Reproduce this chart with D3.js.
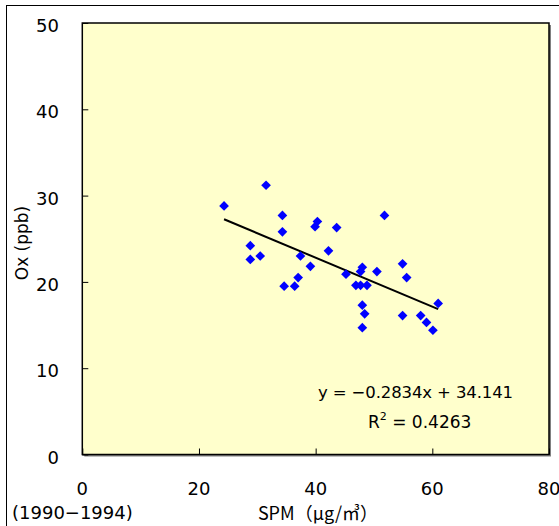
<!DOCTYPE html>
<html><head><meta charset="utf-8">
<script src="https://cdn.jsdelivr.net/npm/d3@7"></script>
<style>body{margin:0;background:#fff}svg{display:block}</style>
</head><body>
<svg id="c" width="559" height="526"></svg>
<script>
const spm = [24.3, 31.5, 28.8, 28.8, 30.5, 34.3, 34.3, 34.6, 36.4, 37.0, 37.4, 39.1, 39.9, 40.3, 42.2, 43.6, 45.2, 46.9, 47.7, 48.0, 47.7, 48.8, 48.0, 48.4, 48.0, 50.5, 51.8, 54.9, 55.6, 54.9, 58.0, 59.0, 60.1, 61.0];
const ox  = [28.8, 31.2, 24.2, 22.6, 23.0, 27.7, 25.8, 19.5, 19.5, 20.5, 23.0, 21.8, 26.4, 27.0, 23.6, 26.3, 20.9, 19.6, 19.6, 21.7, 21.2, 19.6, 17.3, 16.3, 14.7, 21.2, 27.7, 22.1, 20.5, 16.1, 16.1, 15.3, 14.4, 17.5];
const xTicks = [0, 20, 40, 60, 80];
const yTicks = [0, 10, 20, 30, 40, 50];
const slope = -0.2834, intercept = 34.141;
const eqText = "y = \u22120.2834x + 34.141";
const r2Text = "0.4263";
const yTitle = "Ox (ppb)";
const xTitle = "SPM\uFF08\u03BCg/\u33A5\uFF09";
const periodText = "(1990\u22121994)";

const svg = d3.select("#c");
const L = 82.3, R = 549, T = 23, B = 454.5;
const x = d3.scaleLinear().domain([0, 80]).range([L, R]);
const y = d3.scaleLinear().domain([0, 50]).range([B, T]);

// outer frame
svg.append("rect").attr("x", 6.5).attr("y", 5.5).attr("width", 700).attr("height", 700)
  .attr("fill", "#fff").attr("stroke", "#000").attr("stroke-width", 1);

// plot shadow + area
svg.append("rect").attr("x", L + 2).attr("y", T + 2).attr("width", R - L).attr("height", B - T)
  .attr("fill", "#808080");
svg.append("rect").attr("x", L).attr("y", T).attr("width", R - L).attr("height", B - T)
  .attr("fill", "#FFFFCC").attr("stroke", "#000").attr("stroke-width", 1.5);

const font = "DejaVu Sans";
const yAxis = d3.axisRight(y).tickValues(yTicks).tickSize(6).tickFormat("");
const gy = svg.append("g").attr("transform", `translate(${L},0)`).call(yAxis);
gy.select(".domain").remove();
gy.selectAll("line").attr("stroke", "#000").attr("stroke-width", 1);
const xAxis = d3.axisTop(x).tickValues(xTicks).tickSize(6).tickFormat("");
const gx = svg.append("g").attr("transform", `translate(0,${B})`).call(xAxis);
gx.select(".domain").remove();
gx.selectAll("line").attr("stroke", "#000").attr("stroke-width", 1);

svg.append("g").selectAll("text").data(yTicks).join("text")
  .attr("x", 59).attr("y", d => y(d) + 2.5)
  .attr("text-anchor", "end").attr("dominant-baseline", "central")
  .attr("font-family", font).attr("font-size", 18).text(d => d);
svg.append("g").selectAll("text").data(xTicks).join("text")
  .attr("x", d => x(d)).attr("y", 488)
  .attr("text-anchor", "middle").attr("dominant-baseline", "central")
  .attr("font-family", font).attr("font-size", 18).text(d => d);

svg.append("text").attr("transform", "translate(22,243) rotate(-90)")
  .attr("text-anchor", "middle").attr("dominant-baseline", "central")
  .attr("font-family", font).attr("font-size", 17).text(yTitle);
svg.append("text").attr("x", 318).attr("y", 512)
  .attr("text-anchor", "middle").attr("dominant-baseline", "central")
  .attr("font-family", "Noto Sans CJK JP").attr("font-size", 18).text(xTitle);
svg.append("text").attr("x", 12).attr("y", 512)
  .attr("dominant-baseline", "central")
  .attr("font-family", font).attr("font-size", 18).text(periodText);

const xmin = d3.min(spm), xmax = d3.max(spm);
svg.append("line")
  .attr("x1", x(xmin)).attr("y1", y(slope * xmin + intercept))
  .attr("x2", x(xmax)).attr("y2", y(slope * xmax + intercept))
  .attr("stroke", "#000").attr("stroke-width", 2);

const pts = spm.map((v, i) => [v, ox[i]]);
svg.append("g").selectAll("path").data(pts).join("path")
  .attr("d", d3.symbol(d3.symbolDiamond2, 60))
  .attr("transform", d => `translate(${x(d[0])},${y(d[1])})`)
  .attr("fill", "#0000FF");

svg.append("text").attr("x", 318).attr("y", 398).attr("text-anchor", "start")
  .attr("font-family", font).attr("font-size", 16.5).attr("textLength", 195)
  .attr("lengthAdjust", "spacing").text(eqText);
const r2 = svg.append("text").attr("x", 368).attr("y", 428).attr("text-anchor", "start")
  .attr("font-family", font).attr("font-size", 17);
r2.append("tspan").text("R");
r2.append("tspan").attr("dy", -8).attr("font-size", 11).text("2");
r2.append("tspan").attr("dy", 8).text(" = " + r2Text);
</script>
</body></html>
